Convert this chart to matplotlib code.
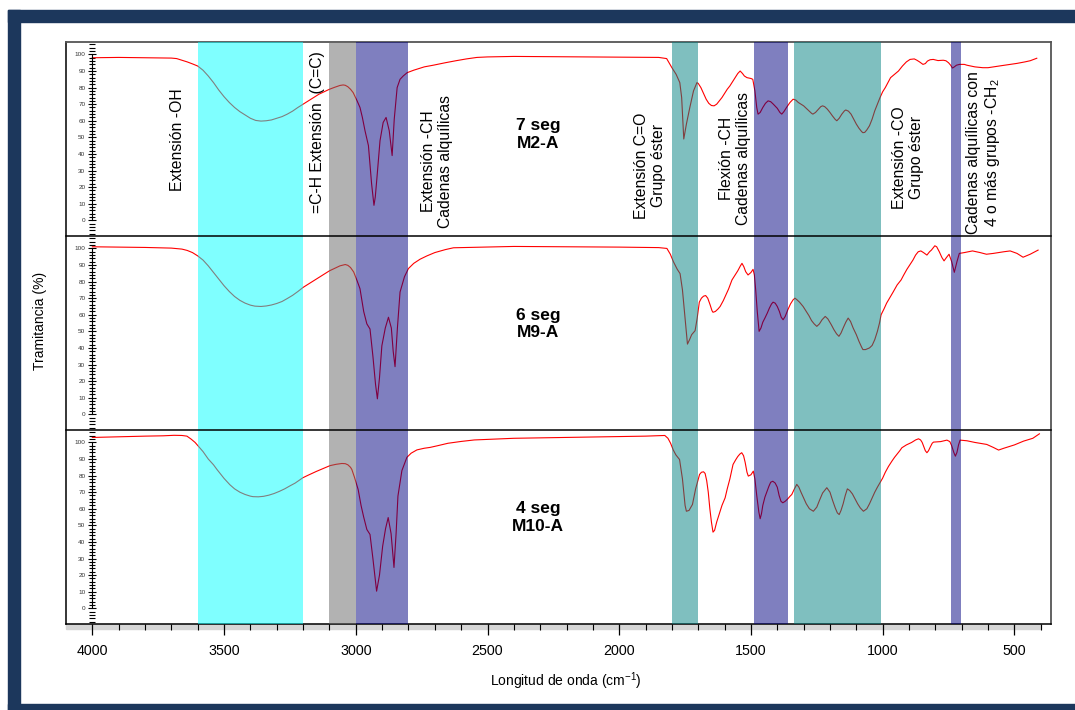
import matplotlib
matplotlib.use('Agg')
import matplotlib.pyplot as plt
import matplotlib.transforms as mtransforms
from matplotlib.patches import Rectangle
from matplotlib.ticker import MultipleLocator

plt.rcParams['font.family'] = ['Liberation Sans', 'DejaVu Sans']
plt.rcParams['mathtext.fontset'] = 'custom'
plt.rcParams['mathtext.rm'] = 'Liberation Sans'
plt.rcParams['mathtext.it'] = 'Liberation Sans:italic'
plt.rcParams['mathtext.bf'] = 'Liberation Sans:bold'

# --- spectra (wavenumber cm-1, transmittance %) ---
wn_m2a = [4000, 3900, 3800, 3700, 3680, 3660, 3640, 3620, 3600, 3580, 3560, 3540, 3520, 3500,
          3480, 3460, 3440, 3420, 3400, 3380, 3360, 3340, 3320, 3300, 3280, 3260, 3240, 3220,
          3200, 3180, 3160, 3140, 3120, 3100, 3080, 3060, 3048, 3040, 3030, 3020, 3010, 2995,
          2984, 2975, 2965, 2952, 2940, 2931, 2926, 2920, 2908, 2896, 2885, 2873, 2862, 2854,
          2843, 2832, 2820, 2805, 2780, 2760, 2740, 2706, 2660, 2620, 2580, 2540, 2500, 2400,
          2200, 2000, 1850, 1820, 1800, 1784, 1770, 1763, 1755, 1745, 1732, 1718, 1705, 1700,
          1690, 1680, 1670, 1660, 1650, 1640, 1630, 1620, 1610, 1600, 1590, 1580, 1570, 1560,
          1550, 1541, 1532, 1525, 1515, 1500, 1493, 1485, 1478, 1473, 1465, 1455, 1445, 1435,
          1425, 1415, 1400, 1390, 1383, 1375, 1365, 1352, 1340, 1330, 1320, 1310, 1300, 1290,
          1280, 1270, 1265, 1255, 1245, 1235, 1228, 1220, 1210, 1200, 1190, 1180, 1174, 1165,
          1155, 1145, 1140, 1130, 1120, 1110, 1100, 1090, 1080, 1075, 1068, 1060, 1050, 1040,
          1030, 1020, 1010, 1000, 990, 980, 970, 955, 940, 925, 910, 896, 880, 870, 860, 847,
          838, 830, 820, 808, 790, 770, 760, 750, 742, 735, 728, 720, 708, 690, 680, 650, 620,
          600, 580, 550, 516, 490, 460, 440, 415]
t_m2a = [98, 98.2, 98, 97.8, 97.5, 96.5, 95.5, 94.3, 93, 90.5, 87, 83, 78.5, 74.5,
         71, 68, 65.5, 63.5, 61.5, 60.2, 59.8, 60, 60.5, 61.5, 62.5, 64, 65.8, 68,
         70, 72, 74, 76, 77.5, 79, 80.2, 81.3, 81.6, 81.4, 80.5, 79, 77, 72,
         68, 62, 54, 45, 22, 9, 14, 25, 48, 59, 62, 54, 39, 61,
         80, 85, 87, 89, 90.5, 91.5, 92.5, 93.5, 95, 96.2, 97.3, 98.2, 98.5, 98.8,
         98.6, 98.4, 98.2, 97.5, 92, 88, 83, 74, 49, 58, 68, 78, 83, 82.5,
         80, 76.5, 73, 70.5, 69.2, 69, 70, 72, 74, 76.5, 79, 81, 83.5, 86,
         88.5, 90, 88.5, 87, 86, 85.5, 85, 78, 68, 64, 65, 68, 70.5, 72,
         71.5, 70, 67.5, 65, 64, 65.5, 68, 71, 73, 72.5, 71, 70, 69, 67.5,
         66, 64.5, 64, 65, 66.8, 68.5, 69, 68.5, 67, 65, 62.8, 60.8, 60, 61.5,
         64, 66, 66.5, 65.8, 64, 61, 58, 55.5, 53.5, 52.8, 53, 54.5, 57, 61,
         66, 70, 74, 77.5, 80, 83, 86, 88, 90, 93, 95.5, 97, 97.3, 96.5, 95.5, 94,
         94.5, 96, 96.8, 97, 96.3, 96.5, 96.2, 95, 93.5, 91.8, 92.5, 93.5, 94, 94, 93.5, 92.5, 92,
         92, 92.5, 93.2, 94, 94.6, 95.5, 96.2, 97.7]

wn_m9a = [4000, 3900, 3800, 3700, 3660, 3640, 3620, 3600, 3580, 3560, 3540, 3520, 3500, 3480,
          3460, 3440, 3420, 3400, 3383, 3360, 3340, 3320, 3300, 3280, 3260, 3240, 3220, 3200,
          3180, 3160, 3140, 3120, 3100, 3080, 3060, 3040, 3030, 3020, 3008, 2995, 2984, 2970,
          2958, 2946, 2935, 2925, 2918, 2910, 2901, 2888, 2876, 2865, 2858, 2851, 2842, 2832,
          2815, 2800, 2780, 2756, 2730, 2700, 2660, 2629, 2400, 2200, 2000, 1850, 1819, 1806,
          1794, 1780, 1769, 1760, 1750, 1741, 1733, 1725, 1712, 1704, 1696, 1688, 1680, 1672,
          1664, 1655, 1648, 1644, 1635, 1625, 1617, 1605, 1595, 1585, 1572, 1560, 1550, 1540,
          1534, 1527, 1520, 1511, 1500, 1492, 1487, 1482, 1476, 1469, 1462, 1455, 1447, 1438,
          1430, 1422, 1416, 1408, 1400, 1392, 1385, 1378, 1370, 1360, 1350, 1340, 1333, 1325,
          1315, 1302, 1290, 1280, 1270, 1260, 1250, 1240, 1230, 1218, 1208, 1195, 1185, 1175,
          1166, 1158, 1150, 1140, 1131, 1122, 1112, 1100, 1090, 1080, 1075, 1065, 1050, 1040,
          1030, 1020, 1012, 1006, 995, 985, 972, 961, 945, 930, 920, 908, 895, 885, 875, 865,
          855, 845, 832, 822, 815, 802, 795, 785, 775, 767, 758, 748, 738, 728, 718, 709,
          690, 659, 630, 606, 580, 560, 540, 516, 490, 467, 440, 410]
t_m9a = [101, 100.8, 100.6, 100.2, 99.6, 98.8, 97.5, 95.5, 93, 89.5, 85.5, 81.5, 77.5, 74,
         71, 68.7, 67, 65.8, 65.2, 65, 65.3, 65.9, 66.8, 68, 69.8, 71.7, 74, 76.5,
         78.5, 80.5, 82.5, 84.5, 86.5, 88, 89.5, 90.3, 89.8, 88.5, 85.8, 80.5, 75.7, 62,
         54.5, 51.4, 35, 18, 9.3, 22, 41.3, 52, 58.5, 52, 38, 28.7, 52, 73.7,
         83, 87.9, 91, 93.5, 95.5, 97.5, 99.3, 100.4, 101.2, 101, 100.8, 100.5, 100, 96.5,
         91.9, 87.5, 84.8, 75, 57.5, 42.3, 45, 48, 50.4, 58, 67.6, 70, 71.2, 71.6,
         70, 66, 62.5, 61.5, 62, 63.5, 65, 68.5, 72, 75.5, 81, 84, 86.5, 89.5,
         91, 89, 86, 84, 85.5, 87.4, 84, 75, 62, 50, 52, 55.5, 58, 61,
         64, 66.5, 67.6, 67, 65, 62, 58.5, 57, 59, 63, 66.5, 69, 70, 69,
         67.5, 65, 62, 59.5, 56.5, 54.5, 53, 54.5, 57, 59, 57.5, 54, 51, 48.5,
         47, 49, 52, 55.5, 58, 56, 52, 48, 44, 40.5, 39, 39, 40, 41.5,
         45, 50, 55, 60, 63.5, 67, 70.5, 73.5, 78, 81, 84, 87.4, 90.5, 93, 96, 98,
         98.5, 97.5, 96, 98, 99, 101.6, 101, 98, 94.5, 92.5, 94.5, 96.5, 92, 85.6, 92, 97,
         97.5, 98.5, 97.5, 96.5, 97, 97.5, 98, 98.5, 97, 94.7, 96.5, 99]

wn_m10a = [4000, 3900, 3800, 3731, 3690, 3660, 3641, 3625, 3610, 3595, 3580, 3560, 3540, 3527,
           3500, 3478, 3460, 3440, 3420, 3400, 3390, 3370, 3350, 3330, 3310, 3290, 3270, 3250,
           3230, 3201, 3180, 3150, 3120, 3098, 3075, 3053, 3040, 3030, 3020, 3015, 3005, 2991,
           2980, 2970, 2958, 2946, 2935, 2921, 2910, 2898, 2887, 2877, 2866, 2855, 2847, 2840,
           2825, 2806, 2790, 2768, 2740, 2718, 2690, 2650, 2600, 2550, 2400, 2200, 2000, 1900,
           1827, 1815, 1805, 1795, 1785, 1771, 1760, 1750, 1745, 1735, 1722, 1710, 1695, 1688,
           1680, 1674, 1668, 1662, 1656, 1650, 1644, 1638, 1630, 1620, 1610, 1598, 1590, 1580,
           1568, 1558, 1550, 1542, 1535, 1528, 1522, 1515, 1510, 1500, 1491, 1485, 1478, 1470,
           1465, 1460, 1455, 1447, 1440, 1432, 1425, 1417, 1408, 1400, 1393, 1386, 1379, 1370,
           1360, 1352, 1345, 1335, 1326, 1318, 1310, 1300, 1290, 1278, 1263, 1250, 1240, 1228,
           1212, 1200, 1190, 1180, 1172, 1165, 1158, 1150, 1142, 1134, 1125, 1115, 1105, 1095,
           1085, 1073, 1060, 1050, 1040, 1030, 1020, 1010, 1000, 990, 978, 965, 955, 945, 935,
           927, 910, 890, 875, 864, 856, 850, 844, 838, 832, 826, 820, 812, 807, 780, 756,
           745, 738, 730, 724, 718, 712, 706, 680, 650, 605, 580, 560, 540, 500, 465, 430, 405]
t_m10a = [103, 103.4, 103.8, 104, 104.3, 104.2, 103.8, 102, 100, 97.3, 94.5, 90, 86.5, 83.7,
          78.3, 74.5, 72, 70, 68.6, 67.6, 67.3, 67.2, 67.5, 68.2, 69.2, 70.5, 72, 73.8,
          75.5, 78.7, 80.3, 82.5, 84.5, 86, 86.8, 87.3, 87.2, 86.5, 85, 83.7, 79, 71.6,
          62, 55, 47.5, 44.5, 30, 10.3, 20, 37.4, 48, 54.7, 45, 24.6, 45, 67.6,
          83, 91, 93.5, 95.5, 96.5, 97, 98, 99.5, 100.6, 101.5, 102.5, 103, 103.5, 103.8,
          104.2, 102.5, 99.5, 95.5, 92.5, 89.7, 78, 62, 58.5, 59, 62.6, 72, 80.7, 82,
          82.3, 81.3, 77, 70, 60, 52, 45.9, 47, 52, 57, 62, 66.6, 72, 78,
          86.7, 89.5, 91.5, 93, 93.8, 92, 88, 82, 79.7, 80.5, 82.7, 78, 68, 58,
          54, 57, 62, 67, 70, 73.5, 76, 76.6, 75.5, 73, 68, 64.5, 63.6, 64.5,
          66, 67.5, 68.6, 72, 74.7, 73, 70, 66.5, 63, 60, 58.5, 61, 65, 69.5,
          72.7, 70, 65, 60.5, 57.5, 56.5, 59, 63, 68, 72, 71, 69, 66, 63,
          60.5, 58.5, 60, 63, 66.5, 70, 73, 75.7, 78.5, 82, 85.5, 88.7, 91, 93, 95,
          96.8, 98.5, 100, 101.5, 102.2, 101.5, 100, 97.5, 95, 93.8, 95, 97, 99.5, 100.2, 100.5, 101.4,
          100.5, 98, 94, 91.7, 94, 98.5, 101.4, 101, 100, 98.8, 97, 95.4, 96.5, 98.5, 100.8, 102.5, 105.2]

samples = ["7 seg\nM2-A", "6 seg\nM9-A", "4 seg\nM10-A"]
spectra = [(wn_m2a, t_m2a), (wn_m9a, t_m9a), (wn_m10a, t_m10a)]

# absorption regions (cm-1)
band_lo = [3200, 3000, 2800, 1700, 1358, 1005, 702]
band_hi = [3600, 3100, 3000, 1800, 1487, 1335, 740]
band_colors = ['#00ffff', '#666666', '#000080', '#008080', '#000080', '#008080', '#000080']

W, H = 1075, 710
fig = plt.figure(figsize=(W / 100, H / 100), dpi=100)


def fx(px):
    return px / W


def fy(py):
    return 1 - py / H


# navy picture border
navy = '#1c375c'
fig.patches.append(Rectangle((fx(8), fy(710)), fx(12), 700 / H, transform=fig.transFigure,
                             color=navy, zorder=0))
fig.patches.append(Rectangle((fx(8), fy(22)), 1, 12 / H, transform=fig.transFigure,
                             color=navy, zorder=0))
fig.patches.append(Rectangle((fx(8), fy(710)), 1, 6 / H, transform=fig.transFigure,
                             color=navy, zorder=0))

left, right, top, bottom = 66, 1051, 42, 624
xlim = (4100, 361)
ylim = (-9.5, 107.5)

# frame axes: outer box and bottom wavenumber axis
axf = fig.add_axes([fx(left), fy(bottom), fx(right - left), (bottom - top) / H])
axf.set_xlim(*xlim)
axf.set_yticks([])
axf.set_xticks([4000, 3500, 3000, 2500, 2000, 1500, 1000, 500])
axf.set_xticks(range(4000, 399, -100), minor=True)
axf.tick_params(axis='x', which='major', length=8, width=0.9, pad=6.5, labelsize=10.3)
axf.tick_params(axis='x', which='minor', length=4.5, width=0.8)
for s in ['left', 'bottom']:
    axf.spines[s].set_color('black')
    axf.spines[s].set_linewidth(1.1)
for s in ['top', 'right']:
    axf.spines[s].set_color('#555555')
    axf.spines[s].set_linewidth(1.3)
trans = mtransforms.blended_transform_factory(axf.transData, axf.transAxes)
axf.add_patch(Rectangle((400, -5 / (bottom - top)), 3700, 5 / (bottom - top), transform=trans,
                        color='#d6d6d6', clip_on=False, zorder=0))

panel_h = (bottom - top) / 3
panel_ys = [top, top + panel_h, top + 2 * panel_h]
sample_y = [51.6, 54.3, 54.7]

axes = []
for i, (wn, tr) in enumerate(spectra):
    y0 = panel_ys[i]
    ax = fig.add_axes([fx(left), fy(y0 + panel_h), fx(right - left), panel_h / H])
    ax.set_facecolor('none')
    ax.set_xlim(*xlim)
    ax.set_ylim(*ylim)
    ax.plot(wn, tr, color='#ff0000', lw=0.8, zorder=2)
    for lo, hi, c in zip(band_lo, band_hi, band_colors):
        ax.axvspan(lo, hi, color=c, alpha=0.5, lw=0, zorder=3)
    ax.set_xticks([])
    ax.spines['left'].set_position(('data', 4000))
    ax.spines['left'].set_bounds(0, 100)
    ax.spines['left'].set_linewidth(0.8)
    ax.spines['top'].set_visible(i > 0)
    ax.spines['top'].set_color('black')
    ax.spines['top'].set_linewidth(1.1)
    ax.spines['top'].set_zorder(4)
    ax.spines['bottom'].set_visible(False)
    ax.spines['right'].set_visible(False)
    ax.yaxis.set_minor_locator(MultipleLocator(2))
    ax.set_yticks(range(0, 101, 10))
    ax.tick_params(axis='y', which='major', direction='inout', length=6, width=0.8,
                   pad=2, labelsize=4.6, labelcolor='#333333')
    ax.tick_params(axis='y', which='minor', direction='inout', length=4, width=0.8)
    ax.text(2308, sample_y[i], samples[i], ha='center', va='center', fontsize=12.5,
            fontweight='bold', zorder=5)
    axes.append(ax)

# assignment labels in the top panel
ax0 = axes[0]
labels = [
    (3675, 48.6, "Extensión -OH"),
    (3147, 53.4, "=C-H Extensión  (C=C)"),
    (2691, 35.4, "Extensión -CH\nCadenas alquílicas"),
    (1883, 33.0, "Extensión C=O\nGrupo éster"),
    (1560, 37.2, "Flexión -CH\nCadenas alquílicas"),
    (903, 37.8, "Extensión -CO\nGrupo éster"),
    (615, 40.8, "Cadenas alquílicas con\n4 o más grupos -CH$_2$"),
]
for x, y, s in labels:
    ax0.text(x, y, s, rotation=90, ha='center', va='center', multialignment='center',
             fontsize=11.3, zorder=5, clip_on=False)

fig.text(fx(40), fy(321), "Tramitancia (%)", rotation=90, ha='center', va='center',
         fontsize=10)
fig.text(fx(566), fy(681), "Longitud de onda (cm$^{-1}$)", ha='center', va='center',
         fontsize=10)

fig.savefig('out.png', dpi=100)
